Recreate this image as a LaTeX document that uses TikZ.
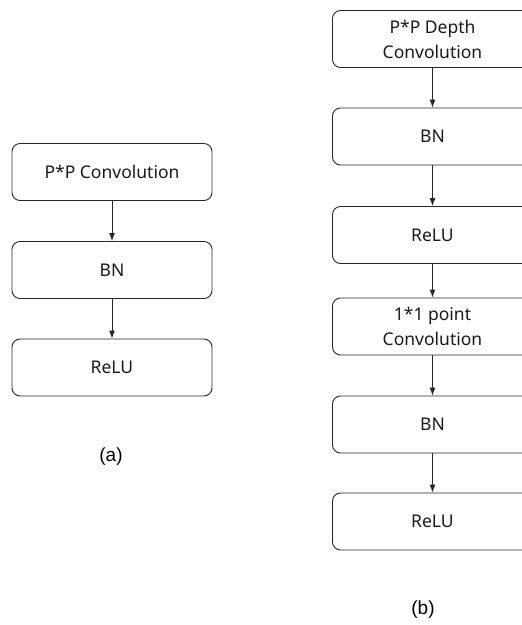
\documentclass[tikz,border=0pt]{standalone}
\usepackage{fontspec}
\setmainfont{Noto Sans}
\newfontfamily\capfont{Liberation Sans}
\usepackage{tikz}
\usetikzlibrary{shapes,arrows,arrows.meta,positioning,calc}

\tikzset{
  layerbox/.style={draw=black!85, line width=0.9pt, rounded corners=8pt,
    minimum width=200pt, minimum height=57pt, align=center,
    font=\fontsize{17.5}{25}\selectfont, text=black!90},
  flow/.style={-{Latex[length=8pt,width=6pt]}, draw=black!85, line width=0.9pt}
}

\begin{document}
\begin{tikzpicture}[x=1pt,y=-1pt]
            \useasboundingbox (0,0) rectangle (522,625);
            \clip (0,0) rectangle (522,625);

            % (a) plain convolution block
            \node[layerbox] (convA) at (112,172) {P*P Convolution};
            \node[layerbox] (bnA) at (112,270) {BN};
            \node[layerbox] (reluA) at (112,367.5) {ReLU};
            \draw[flow] (convA) -- (bnA);
            \draw[flow] (bnA) -- (reluA);
            \node[font=\capfont\fontsize{19}{21}\selectfont] (capA) at (111,457) {(a)};

            % (b) depthwise separable block
            \node[layerbox] (depthB) at (432.5,39) {P*P Depth\\Convolution};
            \node[layerbox] (bnB) at (432.5,136.5) {BN};
            \node[layerbox] (reluB) at (432.5,235) {ReLU};
            \node[layerbox] (pointB) at (432.5,326.5) {1*1 point\\Convolution};
            \node[layerbox] (bnBB) at (432.5,424.5) {BN};
            \node[layerbox] (reluBB) at (432.5,521.5) {ReLU};
            \draw[flow] (depthB) -- (bnB);
            \draw[flow] (bnB) -- (reluB);
            \draw[flow] (reluB) -- (pointB);
            \draw[flow] (pointB) -- (bnBB);
            \draw[flow] (bnBB) -- (reluBB);
            \node[font=\capfont\fontsize{19}{21}\selectfont] (capB) at (423,610) {(b)};
        \end{tikzpicture}
\end{document}
